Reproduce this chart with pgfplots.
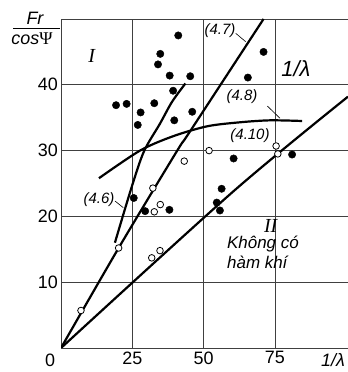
\documentclass[border=0pt]{standalone}
\usepackage{pgfplots}
\pgfplotsset{compat=1.18}
\usepackage{fontspec}
\setmainfont{Liberation Sans}
\newfontfamily\tnr{Liberation Serif}
\begin{document}
\begin{tikzpicture}
\useasboundingbox (0,0) rectangle (348bp,372bp);
\begin{axis}[at={(61bp,24bp)}, anchor=south west, scale only axis,
  width=287bp, height=329bp,
  xmin=0, xmax=100.6, ymin=0, ymax=50,
  axis x line=bottom, axis y line=left,
  axis line style={-, black!75, line width=0.8bp},
  xtick={25,50,75}, ytick={10,20,30,40,50}, yticklabels={10,20,30,40,{}},
  major tick length=0pt,
  grid=major, grid style={black!75, line width=0.7bp},
  ticklabel style={font=\fontsize{18}{18}\selectfont},
  yticklabel style={inner sep=3bp},
  /pgf/number format/assume math mode=true,
  clip=true]
% (4.7) line from origin
\addplot[black, line width=2.2bp, smooth] coordinates {(0,0) (20.2,15.2) (40.6,29.9) (45.2,32.9) (71,50)};
% (4.6)
\addplot[black, line width=2.2bp, smooth] coordinates {(18.9,16.0) (24.8,24.5) (29.1,29.9) (34.7,34.1) (38.9,37.4) (43.6,40.2)};
% (4.8)
\addplot[black, line width=2.2bp, smooth] coordinates {(13.3,25.8) (27.7,30.0) (39.4,32.2) (51.3,33.7) (62.7,34.3) (73.3,34.6) (84.5,34.5)};
% (4.10) lower line
\addplot[black, line width=2.2bp, smooth] coordinates {(0,0) (60.4,23.8) (100.6,38.2)};
% open circles
\addplot[only marks, mark=*, mark size=3.3bp, mark options={fill=white, draw=black, line width=0.8bp}] coordinates {
(7.0,5.7) (20.2,15.2) (31.8,13.7) (34.7,14.8) (32.2,24.3) (34.8,21.8) (32.7,20.7) (43.2,28.4) (51.9,30.0) (75.4,30.7) (76.0,29.5)};
% filled dots
\addplot[only marks, mark=*, mark size=3.7bp, black] coordinates {
(41.1,47.5) (34.8,44.7) (34.0,43.1) (38.1,41.4) (45.3,41.3) (71.0,45.0) (65.5,41.1) (39.3,39.1)
(19.3,36.9) (23.0,37.1) (32.7,37.2) (27.9,35.8) (46.0,35.9) (26.9,33.9) (39.7,34.6)
(60.5,28.8) (81.0,29.4) (56.3,24.2) (54.6,22.1) (55.7,20.9) (25.5,22.8) (29.5,20.8) (38.0,21.0)};
\end{axis}
% annotations
\node[font=\fontsize{15}{15}\selectfont\itshape] at (220bp,341bp) {(4.7)};
\draw[black, line width=0.6bp] (235.7bp,338.7bp) -- (245.7bp,330.3bp);
\node[font=\fontsize{15}{15}\selectfont\itshape] at (242bp,275bp) {(4.8)};
\draw[black, line width=0.6bp] (267.3bp,266bp) -- (280bp,253.7bp);
\node[font=\fontsize{15}{15}\selectfont\itshape] at (250bp,236bp) {(4.10)};
\node[font=\fontsize{15}{15}\selectfont\itshape] at (99bp,172bp) {(4.6)};
\draw[black, line width=0.6bp] (115bp,171bp) -- (123.3bp,164.3bp);
\node[font=\fontsize{22}{22}\selectfont\itshape] at (296bp,303bp) {1/λ};
\node[font=\fontsize{20}{20}\selectfont\tnr\itshape] at (91.7bp,316.3bp) {I};
\node[font=\fontsize{20}{20}\selectfont\tnr\itshape] at (270.7bp,146bp) {II};
\node[font=\fontsize{17}{20}\selectfont\itshape, align=left, anchor=north west, inner sep=0pt] at (227bp,136bp) {Không có\\hàm khí};
% axis labels
\node[font=\fontsize{18}{18}\selectfont\itshape] at (35bp,354bp) {Fr};
\draw[black, line width=0.8bp] (13bp,344bp) -- (60bp,344bp);
\node[font=\fontsize{18}{18}\selectfont] at (32bp,333bp) {\textit{cos}{\tnr Ψ}};
\node[font=\fontsize{18}{18}\selectfont] at (50bp,12bp) {0};
\node[font=\fontsize{18}{18}\selectfont\itshape] at (333bp,12bp) {1/λ};
\end{tikzpicture}
\end{document}
